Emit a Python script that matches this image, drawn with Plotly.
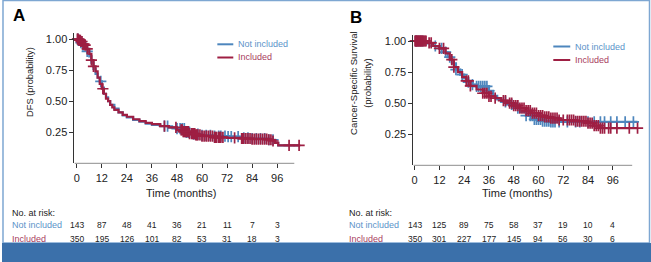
import numpy as np
import plotly.graph_objects as go

W, H = 651, 262
BLUE = "#4d86bd"
RED = "#9e1f43"
BLUE_TXT = "#5b93c9"
RED_TXT = "#a83d5e"

tick_vals = [0, 12, 24, 36, 48, 60, 72, 84, 96]

# ---- Panel A: DFS ----
A_blue_t = [0, 1, 2, 3, 4, 5, 6, 7, 8, 9, 10, 11, 12, 13, 14, 15, 16, 18, 20, 22, 24, 27, 30, 33, 36,
            40, 44, 48, 52, 56, 60, 66, 72, 78, 84, 92, 95, 96.5, 107]
A_blue_s = [1.00, 0.99, 0.97, 0.95, 0.93, 0.90, 0.86, 0.81, 0.76, 0.72, 0.69, 0.66, 0.61, 0.56, 0.53, 0.50,
            0.47, 0.44, 0.41, 0.385, 0.37, 0.35, 0.335, 0.32, 0.31, 0.30, 0.287, 0.28, 0.25, 0.235, 0.225,
            0.22, 0.215, 0.205, 0.20, 0.19, 0.165, 0.145, 0.145]
A_red_t = [0, 1, 2, 3, 4, 5, 6, 7, 8, 9, 10, 11, 12, 13, 14, 15, 16, 17, 18, 20, 22, 24, 27, 30, 33, 36,
           40, 44, 48, 51, 54, 57, 60, 66, 72, 78, 84, 92, 94, 95, 96.5, 107]
A_red_s = [1.00, 0.99, 0.98, 0.96, 0.95, 0.92, 0.88, 0.83, 0.78, 0.74, 0.69, 0.64, 0.60, 0.56, 0.52, 0.50,
           0.47, 0.45, 0.43, 0.41, 0.39, 0.375, 0.355, 0.34, 0.325, 0.315, 0.30, 0.29, 0.27, 0.255, 0.24,
           0.23, 0.22, 0.21, 0.205, 0.20, 0.195, 0.19, 0.18, 0.165, 0.145, 0.145]
A_blue_cens = [0.5, 1, 2, 3, 5, 11.5, 42, 43.5, 48, 49.5, 50.5, 51.5, 52.5, 53.5, 54, 56, 58, 60, 62, 64,
               66, 68, 69, 71, 72.5, 74, 77.3, 80, 82, 84, 86, 88, 90, 92, 94]
A_red_cens = [0.3, 0.6, 1, 1.3, 1.7, 2, 2.5, 3, 3.5, 4, 5, 7, 8, 12.5, 42, 47.5, 50, 50.5, 51, 51.5, 52,
              52.5, 53, 53.5, 54, 55, 55.5, 56, 56.5, 57, 57.5, 58, 59, 60, 61, 62, 63, 64, 65, 66, 66.5,
              67, 68, 68.5, 69, 70, 75.6, 79, 79.5, 80, 81, 82, 83, 84, 85, 86, 87, 88, 89, 90, 91, 92,
              93, 94, 101.7, 106.5]
A_risk_not = [143, 87, 48, 41, 36, 21, 11, 7, 3]
A_risk_inc = [350, 195, 126, 101, 82, 53, 31, 18, 3]

# ---- Panel B: Cancer-specific survival ----
B_blue_t = [0, 6, 9, 12, 14, 16, 18, 20, 22, 24, 26, 28, 30, 36, 38, 40, 42, 45, 48, 51, 54, 58, 62, 66, 108]
B_blue_s = [1.00, 0.98, 0.96, 0.94, 0.91, 0.87, 0.82, 0.77, 0.73, 0.70, 0.67, 0.65, 0.635, 0.60, 0.56, 0.53,
            0.51, 0.49, 0.46, 0.43, 0.40, 0.37, 0.355, 0.35, 0.35]
B_red_t = [0, 6, 9, 12, 15, 17, 19, 21, 23, 25, 27, 30, 33, 36, 39, 42, 45, 48, 51, 54, 57, 60, 63, 66, 70,
           78, 84, 87, 90, 108]
B_red_s = [1.00, 0.985, 0.96, 0.94, 0.90, 0.85, 0.79, 0.75, 0.71, 0.68, 0.64, 0.61, 0.58, 0.555, 0.54, 0.52,
           0.50, 0.48, 0.46, 0.44, 0.42, 0.40, 0.39, 0.38, 0.365, 0.355, 0.34, 0.32, 0.30, 0.30]
B_blue_cens = [0.5, 1, 2, 3, 4, 10, 13, 15, 17, 20, 23, 26, 28, 30, 31, 32, 33, 34, 35, 36, 44, 47, 50, 54,
               56, 57, 58, 59, 60, 61, 62, 63, 64, 65, 66, 67, 68, 70, 74, 78, 80, 84, 87, 90, 92, 95, 98,
               102, 106]
B_red_cens = [0.2, 0.5, 0.8, 1, 1.3, 1.6, 2, 2.3, 2.6, 3, 3.3, 3.6, 4, 4.5, 5, 5.5, 7, 8, 12, 14, 18, 19,
              25, 26, 27, 33, 34, 35, 36, 37, 39, 43, 44, 46, 47, 48, 49, 50, 51, 52, 53, 54, 55, 56, 57,
              58, 59, 60, 61, 62, 63, 64, 65, 66, 67, 68, 69, 70, 72, 74, 75, 76, 77, 78, 79, 80, 81, 82,
              83, 84, 85, 86, 87, 88, 89, 90, 91, 92, 94, 95, 98, 104, 108]
B_risk_not = [143, 125, 89, 75, 58, 37, 19, 10, 4]
B_risk_inc = [350, 301, 227, 177, 145, 94, 56, 30, 6]


def px(x):
    return x / W


def py(y):
    return 1 - y / H


def surv_at(ts, ss, c):
    ts = np.asarray(ts)
    ss = np.asarray(ss)
    idx = np.searchsorted(ts, np.asarray(c), side="right") - 1
    return ss[np.clip(idx, 0, len(ss) - 1)]


FONT = "Liberation Sans, Arial, sans-serif"

fig = go.Figure()

panels = [
    dict(xa="x", ya="y", bt=A_blue_t, bs=A_blue_s, rt=A_red_t, rs=A_red_s,
         bc=A_blue_cens, rc=A_red_cens),
    dict(xa="x2", ya="y2", bt=B_blue_t, bs=B_blue_s, rt=B_red_t, rs=B_red_s,
         bc=B_blue_cens, rc=B_red_cens),
]
for p in panels:
    for t, s, c, col in [(p["bt"], p["bs"], p["bc"], BLUE), (p["rt"], p["rs"], p["rc"], RED)]:
        fig.add_trace(go.Scatter(x=t, y=s, mode="lines", line=dict(color=col, width=2.2, shape="hv"),
                                 xaxis=p["xa"], yaxis=p["ya"], showlegend=False, hoverinfo="skip"))
        fig.add_trace(go.Scatter(x=c, y=surv_at(t, s, c), mode="markers",
                                 marker=dict(symbol="cross-thin", size=8, line=dict(color=col, width=1.7)),
                                 xaxis=p["xa"], yaxis=p["ya"], showlegend=False, hoverinfo="skip",
                                 cliponaxis=False))

# axis geometry (pixels)
A_left, A_bottom = 72.7, 163.4
B_left, B_bottom = 412.7, 165.4
A_ppm, B_ppm = 2.094, 2.07
A_range = [-1.1, 110]
B_range = [-0.6, 110]
ppv = 124.4
y_range = [0, 1.05]
A_right = A_left + (A_range[1] - A_range[0]) * A_ppm
B_right = B_left + (B_range[1] - B_range[0]) * B_ppm
A_top = A_bottom - 1.05 * ppv
B_top = B_bottom - 1.05 * ppv

xcommon = dict(tickvals=tick_vals, ticks="outside", ticklen=4, tickwidth=1, tickcolor="#333",
               showline=False, showgrid=False, zeroline=False,
               tickfont=dict(family=FONT, size=11, color="#222"))
ycommon = dict(range=y_range, tickvals=[0.25, 0.5, 0.75, 1.0], ticktext=["0.25", "0.50", "0.75", "1.00"],
               ticks="outside", ticklen=4, tickwidth=1, tickcolor="#333", showline=True, linecolor="#333",
               linewidth=1, showgrid=False, zeroline=False,
               tickfont=dict(family=FONT, size=11, color="#222"))

fig.update_layout(
    width=W, height=H, margin=dict(l=0, r=0, t=0, b=0),
    paper_bgcolor="white", plot_bgcolor="white",
    xaxis=dict(domain=[px(A_left), px(A_right)], range=A_range, anchor="y", **xcommon),
    yaxis=dict(domain=[py(A_bottom), py(A_top)], anchor="x", **ycommon),
    xaxis2=dict(domain=[px(B_left), px(B_right)], range=B_range, anchor="y2", **xcommon),
    yaxis2=dict(domain=[py(B_bottom), py(B_top)], anchor="x2", **ycommon),
)

shapes = []
ann = []
# x axis lines
shapes.append(dict(type="line", xref="x", yref="y", x0=A_range[0], x1=104.2, y0=0, y1=0,
                   line=dict(color="#333", width=1)))
shapes.append(dict(type="line", xref="x2", yref="y2", x0=B_range[0], x1=105.4, y0=0, y1=0,
                   line=dict(color="#333", width=1)))

# frame
shapes.append(dict(type="rect", xref="paper", yref="paper", x0=px(1), x1=px(649.5), y0=py(243), y1=py(0.5),
                   line=dict(color="#7ea7d2", width=1.5), fillcolor="rgba(0,0,0,0)", layer="below"))
shapes.append(dict(type="rect", xref="paper", yref="paper", x0=0, x1=1, y0=0, y1=py(243),
                   line=dict(width=0), fillcolor="#3b70aa"))

# panel letters
ann.append(dict(text="<b>A</b>", x=px(9), y=py(15), xref="paper", yref="paper", xanchor="left",
                yanchor="middle", showarrow=False, font=dict(family=FONT, size=17, color="black")))
ann.append(dict(text="<b>B</b>", x=px(347), y=py(17), xref="paper", yref="paper", xanchor="left",
                yanchor="middle", showarrow=False, font=dict(family=FONT, size=17, color="black")))

# y titles
ann.append(dict(text="DFS (probability)", x=px(28), y=py(82), xref="paper", yref="paper", textangle=-90,
                xanchor="center", yanchor="middle", showarrow=False,
                font=dict(family=FONT, size=9.3, color="#222")))
ann.append(dict(text="Cancer-Specific Survival", x=px(353), y=py(83), xref="paper", yref="paper",
                textangle=-90, xanchor="center", yanchor="middle", showarrow=False,
                font=dict(family=FONT, size=9.5, color="#222")))
ann.append(dict(text="(probability)", x=px(367), y=py(83), xref="paper", yref="paper",
                textangle=-90, xanchor="center", yanchor="middle", showarrow=False,
                font=dict(family=FONT, size=9.5, color="#222")))

# x titles
ann.append(dict(text="Time (months)", x=px(180), y=py(193), xref="paper", yref="paper",
                xanchor="center", yanchor="middle", showarrow=False,
                font=dict(family=FONT, size=11, color="#222")))
ann.append(dict(text="Time (months)", x=px(517), y=py(193), xref="paper", yref="paper",
                xanchor="center", yanchor="middle", showarrow=False,
                font=dict(family=FONT, size=11, color="#222")))

# legends
for lx0, lx1, ly1, ly2 in [(216, 232, 44.3, 57.5), (553, 570, 46.5, 60)]:
    shapes.append(dict(type="line", xref="paper", yref="paper", x0=px(lx0), x1=px(lx1), y0=py(ly1), y1=py(ly1),
                       line=dict(color=BLUE, width=2)))
    shapes.append(dict(type="line", xref="paper", yref="paper", x0=px(lx0), x1=px(lx1), y0=py(ly2), y1=py(ly2),
                       line=dict(color=RED, width=2)))
    ann.append(dict(text="Not included", x=px(lx1 + 3), y=py(ly1), xref="paper", yref="paper",
                    xanchor="left", yanchor="middle", showarrow=False,
                    font=dict(family=FONT, size=9, color=BLUE_TXT)))
    ann.append(dict(text="Included", x=px(lx1 + 3), y=py(ly2), xref="paper", yref="paper",
                    xanchor="left", yanchor="middle", showarrow=False,
                    font=dict(family=FONT, size=9, color=RED_TXT)))

# risk tables
for xref, lx, rn, ri in [("x", 8, A_risk_not, A_risk_inc), ("x2", 346, B_risk_not, B_risk_inc)]:
    ann.append(dict(text="No. at risk:", x=px(lx), y=py(213), xref="paper", yref="paper",
                    xanchor="left", yanchor="middle", showarrow=False,
                    font=dict(family=FONT, size=9, color="#222")))
    ann.append(dict(text="Not included", x=px(lx), y=py(225), xref="paper", yref="paper",
                    xanchor="left", yanchor="middle", showarrow=False,
                    font=dict(family=FONT, size=9, color=BLUE_TXT)))
    ann.append(dict(text="Included", x=px(lx), y=py(238.5), xref="paper", yref="paper",
                    xanchor="left", yanchor="middle", showarrow=False,
                    font=dict(family=FONT, size=9, color=RED_TXT)))
    for tv, a, b in zip(tick_vals, rn, ri):
        ann.append(dict(text=str(a), x=tv, y=py(225), xref=xref, yref="paper", xanchor="center",
                        yanchor="middle", showarrow=False, font=dict(family=FONT, size=8.5, color="#222")))
        ann.append(dict(text=str(b), x=tv, y=py(238.5), xref=xref, yref="paper", xanchor="center",
                        yanchor="middle", showarrow=False, font=dict(family=FONT, size=8.5, color="#222")))

fig.update_layout(shapes=shapes, annotations=ann)
fig.write_html("out.html", config={"displayModeBar": False},
               post_script="document.body.style.margin='0px';")
